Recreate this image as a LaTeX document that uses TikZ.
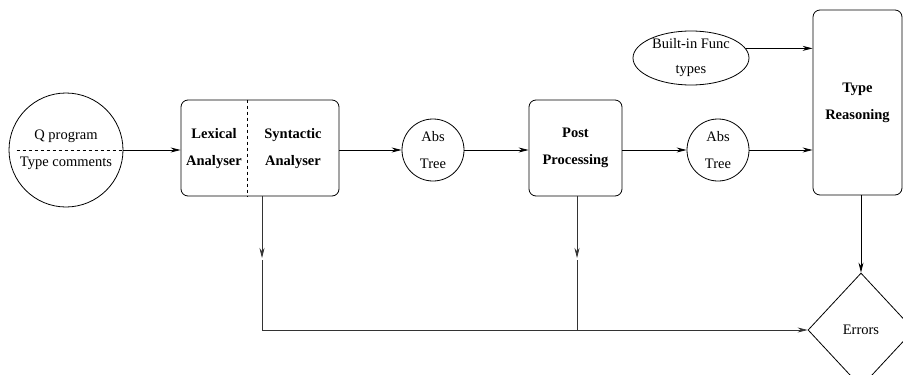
\documentclass[tikz,border=0pt]{standalone}
\usepackage{fontspec}
\setmainfont{Liberation Serif}
\usetikzlibrary{shapes.geometric,arrows.meta,calc}
\begin{document}
\begin{tikzpicture}[x=1pt,y=-1pt,
  every node/.style={font=\fontsize{14.5pt}{27pt}\selectfont, align=center, inner sep=0pt},
  box/.style={draw, line width=0.8pt, rounded corners=7pt},
  bub/.style={draw, circle, line width=0.8pt},
  lbl/.style={font=\fontsize{14.5pt}{27pt}\selectfont\bfseries},
  arr/.style={line width=0.8pt, -{Stealth[length=10pt,width=5pt]}},
  midarr/.style={line width=0.7pt, draw=black!80, fill=black!80, -{Stealth[length=10pt,width=5pt]}},
  thin line/.style={line width=0.7pt, draw=black!80}]
\useasboundingbox (0,0) rectangle (903,375);
\clip (0,0) rectangle (903,375);

\node[bub, minimum size=114pt] (qprog) at (66,150) {Q program\\Type comments};
\node[box, minimum width=158pt, minimum height=96pt] (lexsyn) at (260,148) {};
\node[lbl] (lexlbl) at (214,149) {Lexical\\Analyser};
\node[lbl] (synlbl) at (293,149) {Syntactic\\Analyser};
\node[bub, minimum size=62pt] (abs1) at (433,150) {Abs\\Tree};
\node[box, minimum width=93pt, minimum height=96pt, font=\fontsize{14.5pt}{27pt}\selectfont\bfseries] (post) at (575.5,148) {Post\\Processing};
\node[bub, minimum size=62pt] (abs2) at (718,150) {Abs\\Tree};
\node[box, minimum width=89pt, minimum height=185pt, font=\fontsize{14.5pt}{27pt}\selectfont\bfseries] (type) at (857.5,102.5) {Type\\Reasoning};
\node[draw, ellipse, line width=0.8pt, minimum width=116pt, minimum height=54pt, font=\fontsize{14.5pt}{25pt}\selectfont] (builtin) at (691,58) {Built-in Func\\types};
\node[draw, diamond, line width=0.8pt, minimum width=106pt, minimum height=114pt] (errors) at (861,330) {Errors};

\coordinate (m1) at (262,258);
\coordinate (m2) at (577,258);
\coordinate (c1) at (262,330);
\coordinate (c2) at (577,330);

\draw[dashed, line width=0.7pt] ($(qprog.west)+(8,0)$) -- (qprog.east);
\draw[dashed, line width=0.7pt] ($(lexsyn.north west)+(67,0)$) -- ($(lexsyn.south west)+(67,0)$);

\draw[arr] (qprog.east) -- (qprog.east -| lexsyn.west);
\draw[arr] (lexsyn.east |- abs1.west) -- (abs1.west);
\draw[arr] (abs1.east) -- (abs1.east -| post.west);
\draw[arr] (post.east |- abs2.west) -- (abs2.west);
\draw[arr] (abs2.east) -- (abs2.east -| type.west);
\draw[arr] (builtin.10) -- (builtin.10 -| type.west);
\draw[arr] (errors.north |- type.south) -- (errors.north);

\draw[midarr] (lexsyn.south -| m1) -- (m1);
\draw[midarr] (post.south -| m2) -- (m2);
\draw[thin line] ($(m1)+(0,2)$) -- (c1);
\draw[thin line] ($(m2)+(0,2)$) -- (c2);
\draw[midarr] (c1) -- (errors.west);
\end{tikzpicture}
\end{document}
